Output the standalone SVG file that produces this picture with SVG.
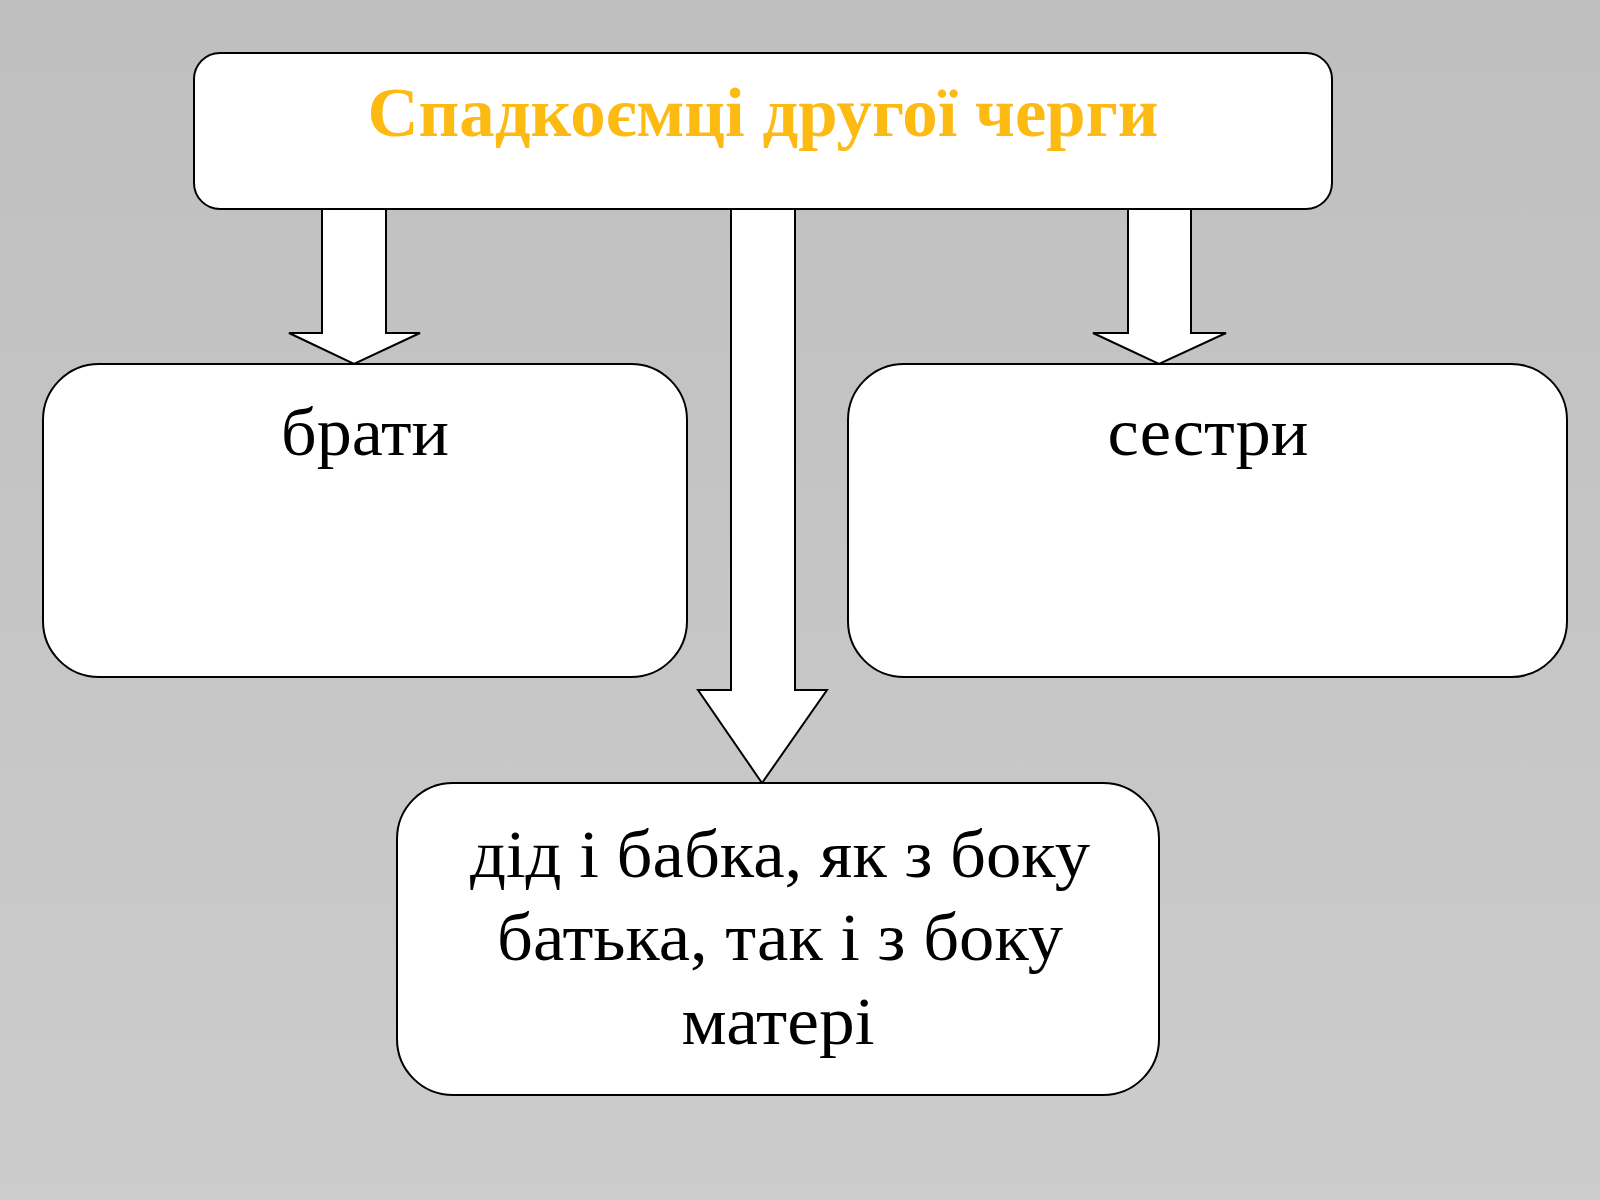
<svg xmlns="http://www.w3.org/2000/svg" width="1600" height="1200" viewBox="0 0 1600 1200">
<defs>
<linearGradient id="bg" x1="0" y1="0" x2="0" y2="1">
<stop offset="0" stop-color="#BFBFBF"/>
<stop offset="1" stop-color="#CCCCCC"/>
</linearGradient>
<style>
.box{fill:#FFFFFF;stroke:#000000;stroke-width:2}
.arrow{fill:#FFFFFF;stroke:#000000;stroke-width:2;stroke-linejoin:miter}
.t{font-family:"Liberation Serif","Times New Roman",serif;font-size:68px;fill:#000000;text-anchor:middle}
.title{font-family:"Liberation Serif","Times New Roman",serif;font-size:70px;font-weight:bold;fill:#FCBA12;text-anchor:middle}
</style>
</defs>
<rect x="0" y="0" width="1600" height="1200" fill="url(#bg)"/>
<g id="connectors">
<polygon class="arrow" points="322,209 386,209 386,333 420,333 354,364 289,333 322,333"/>
<polygon class="arrow" points="1128,209 1191,209 1191,333 1226,333 1159,364 1093,333 1128,333"/>
<polygon class="arrow" points="731,209 795,209 795,690 827,690 762,783 698,690 731,690"/>
</g>
<g id="top">
<rect class="box" x="194" y="53" width="1138" height="156" rx="26" ry="26"/>
<text class="title" x="763" y="136" textLength="791" lengthAdjust="spacingAndGlyphs">Спадкоємці другої черги</text>
</g>
<g id="brothers">
<rect class="box" x="43" y="364" width="644" height="313" rx="56" ry="56"/>
<text class="t" x="365" y="455" textLength="168" lengthAdjust="spacingAndGlyphs">брати</text>
</g>
<g id="sisters">
<rect class="box" x="848" y="364" width="719" height="313" rx="56" ry="56"/>
<text class="t" x="1208" y="455" textLength="201" lengthAdjust="spacingAndGlyphs">сестри</text>
</g>
<g id="grandparents">
<rect class="box" x="397" y="783" width="762" height="312" rx="56" ry="56"/>
<text class="t" x="780" y="877" textLength="620" lengthAdjust="spacingAndGlyphs">дід і бабка, як з боку</text>
<text class="t" x="780" y="960" textLength="566" lengthAdjust="spacingAndGlyphs">батька, так і з боку</text>
<text class="t" x="778" y="1044" textLength="193" lengthAdjust="spacingAndGlyphs">матері</text>
</g>
</svg>
